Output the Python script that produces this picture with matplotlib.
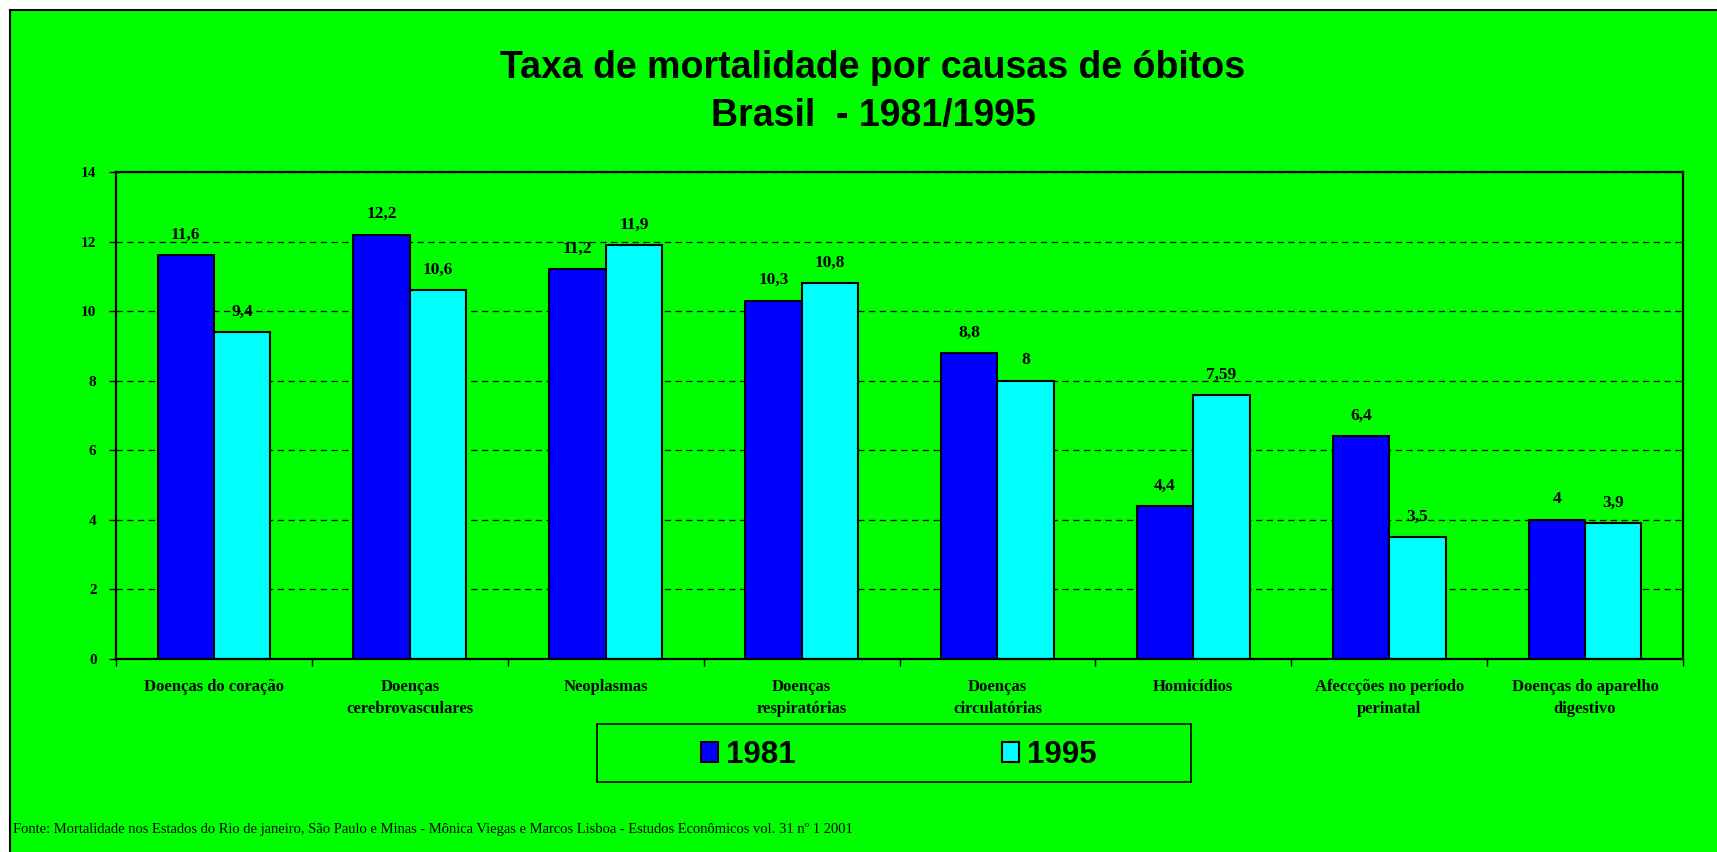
import numpy as np
import matplotlib
matplotlib.use("Agg")
import matplotlib.pyplot as plt
from matplotlib.patches import Rectangle

# data
causas = ["Doenças do coração", "Doenças\ncerebrovasculares", "Neoplasmas",
          "Doenças\nrespiratórias", "Doenças\ncirculatórias", "Homicídios",
          "Afeccções no período\nperinatal", "Doenças do aparelho\ndigestivo"]
taxa_1981 = [11.6, 12.2, 11.2, 10.3, 8.8, 4.4, 6.4, 4.0]
taxa_1995 = [9.4, 10.6, 11.9, 10.8, 8.0, 7.59, 3.5, 3.9]
anos = ["1981", "1995"]
y_ticks = [0, 2, 4, 6, 8, 10, 12, 14]

GREEN = "#00FF00"
BLUE = "#0000FF"
CYAN = "#00FFFF"

sans = "Liberation Sans"
serif = "Liberation Serif"

W, H = 1717, 852
fig = plt.figure(figsize=(W / 100, H / 100), dpi=100, facecolor="white")

# green chart area with black border (top/left visible)
fig.patches.append(Rectangle((10 / W, -0.01), 1.02, 1 - 10 / H + 0.01, transform=fig.transFigure,
                             facecolor=GREEN, edgecolor="black", linewidth=1.5, zorder=-2))

ax = fig.add_axes([116 / W, 1 - 659 / H, (1683 - 116) / W, (659 - 172) / H])
ax.set_facecolor(GREEN)

x = np.arange(len(causas))
bw = 0.288
b1 = ax.bar(x - bw / 2, taxa_1981, bw, color=BLUE, edgecolor="black", linewidth=1.5, label=anos[0])
b2 = ax.bar(x + bw / 2, taxa_1995, bw, color=CYAN, edgecolor="black", linewidth=1.5, label=anos[1])

for bars, vals in ((b1, taxa_1981), (b2, taxa_1995)):
    for rect, v in zip(bars, vals):
        ax.annotate(f"{v:g}".replace(".", ","), (rect.get_x() + rect.get_width() / 2, v),
                    xytext=(0, 9), textcoords="offset points", ha="center", va="bottom",
                    fontsize=12.5, fontweight="bold", family=serif)

ax.set_xlim(-0.5, len(causas) - 0.5)
ax.set_ylim(0, 14)
ax.set_yticks(y_ticks)
ax.set_yticklabels([str(t) for t in y_ticks], fontsize=11, fontweight="bold", family=serif)
ax.tick_params(axis="y", length=5, width=1, pad=9, direction="out")

# boundary ticks on x, labels at category centres
ax.set_xticks(np.arange(len(causas) + 1) - 0.5)
ax.set_xticklabels([])
ax.tick_params(axis="x", which="major", length=5, width=1, direction="out")
ax.set_xticks(x, minor=True)
ax.set_xticklabels(causas, minor=True, fontsize=12, fontweight="bold", family=serif,
                   linespacing=1.5)
ax.tick_params(axis="x", which="minor", length=0, pad=14.5)

ax.set_axisbelow(True)
ax.yaxis.grid(True, color="black", linewidth=0.9, linestyle=(0, (5, 3.6)))
for s in ax.spines.values():
    s.set_linewidth(1.6)

fig.text(873 / W, 1 - 92 / H, "Taxa de mortalidade por causas de óbitos\nBrasil  - 1981/1995",
         ha="center", va="center", fontsize=27, fontweight="bold", family=sans, linespacing=1.42)

# legend box
fig.patches.append(Rectangle((597 / W, 1 - 782 / H), 594 / W, 58 / H, transform=fig.transFigure,
                             facecolor=GREEN, edgecolor="black", linewidth=1.2, zorder=1))
fig.legend(handles=[b1, b2], labels=anos, loc="center", bbox_to_anchor=(899 / W, 1 - 755 / H),
           ncol=2, frameon=False, prop={"family": sans, "weight": "bold", "size": 22.5},
           handlelength=0.55, handleheight=0.6, handletextpad=0.25, columnspacing=6.6)

fig.text(13 / W, 1 - 829 / H,
         "Fonte: Mortalidade nos Estados do Rio de janeiro, São Paulo e Minas - Mônica Viegas e Marcos Lisboa - Estudos Econômicos vol. 31 nº 1 2001",
         ha="left", va="center", fontsize=10.5, family=serif)

fig.savefig("out.png", dpi=100, facecolor=fig.get_facecolor())
